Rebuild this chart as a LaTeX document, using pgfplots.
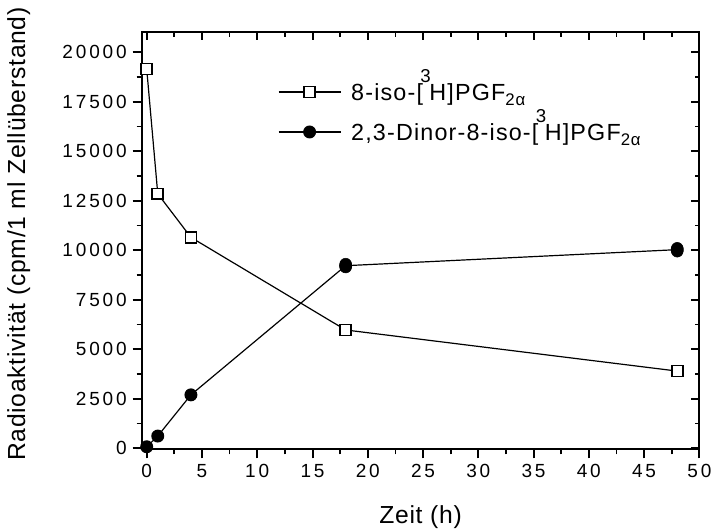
\documentclass[border=0pt]{standalone}
\usepackage{fontspec}
\setmainfont{Liberation Sans}
\newfontfamily\tickfont[LetterSpace=15]{Liberation Sans}
\newfontfamily\legfont[LetterSpace=5]{Liberation Sans}
\newfontfamily\labfont[LetterSpace=3]{Liberation Sans}
\usepackage{pgfplots}
\pgfplotsset{compat=1.18}
\newcommand\sups[1]{\raisebox{13.5pt}{\fontsize{14}{14}\selectfont #1}}
\newcommand\subs[1]{\raisebox{-4pt}{\fontsize{12.6}{13}\selectfont #1}}
\pgfplotstableread{
x y
0 19150
1 12850
4 10650
18 5975
48 3900
}\isodata
\pgfplotstableread{
x y
0 80
1 620
4 2700
18 9220
48 10030
}\dinordata
\begin{document}
\begin{tikzpicture}[x=1pt,y=1pt]
\useasboundingbox (0,0) rectangle (537,396);
\pgfplotsset{
  common/.style={
    at={(106.3pt,59pt)}, anchor=south west,
    scale only axis, width=418.2pt, height=312.75pt,
    xmin=-0.45, xmax=50, ymin=-50, ymax=21000,
    xtick={0,5,...,50}, ytick={0,2500,...,20000},
    minor x tick num=1, minor y tick num=1,
    scaled ticks=false,
    axis line style={line width=1.5pt},
    every tick/.style={line width=1.5pt, black},
    every minor tick/.style={line width=1.3pt, black},
  }
}
\begin{axis}[common,
    tick align=outside, xtick pos=bottom, ytick pos=left,
    major tick length=6.75pt, minor tick length=3.75pt,
    /pgf/number format/set thousands separator={},
    /pgf/number format/assume math mode=true,
    ticklabel style={font=\tickfont\fontsize{14.25}{16}\selectfont},
    xticklabel style={yshift=-1pt},
    yticklabel style={xshift=-1pt},
    xlabel={Zeit (h)},
    ylabel={Radioaktivität (cpm/1 ml Zellüberstand)},
    label style={font=\labfont\fontsize{18.5}{22}\selectfont},
    xlabel style={at={(axis description cs:0.5,-0.177)}, anchor=base},
    ylabel style={at={(axis description cs:-0.209,0.516)}, anchor=base},
    legend cell align=left,
    legend style={at={(axis description cs:0.2444,0.809)}, anchor=west,
      draw=none, fill=none, inner sep=0pt, outer sep=0pt,
      font=\legfont\fontsize{17.5}{20}\selectfont,
      row sep=17.4pt, column sep=7.5pt,
      nodes={inner sep=0pt, outer sep=0pt, text height=12.6pt, text depth=0pt}},
    legend image code/.code={
      \draw[mark repeat=2,mark phase=2,#1] plot coordinates {(0pt,0pt) (23.25pt,0pt) (46.5pt,0pt)};
    },
]
\addplot[black, line width=0.9pt, mark=square*, mark size=4.1pt,
  mark options={fill=white, line width=1.2pt, solid}] table[x=x,y=y] {\isodata};
\addlegendentry{8-iso-[\kern-2pt\sups{3}\kern-1pt H]PGF\subs{2α}}
\addplot[black, line width=0.9pt, mark=*, mark size=4.4pt,
  mark options={fill=black, solid}] table[x=x,y=y] {\dinordata};
\addlegendentry{2,3-Dinor-8-iso-[\kern-2pt\sups{3}\kern-1pt H]PGF\subs{2α}}
\addplot[only marks, black, mark=*, mark size=4.4pt, mark options={fill=black}, forget plot]
  coordinates {(18,9150) (18,9300) (48,9950) (48,10100)};
\end{axis}
\begin{axis}[common,
    tick align=inside, xtick pos=top, ytick pos=right,
    major tick length=6pt, minor tick length=3.5pt,
    xticklabels={}, yticklabels={},
    axis line style={draw=none},
]
\end{axis}
\end{tikzpicture}
\end{document}
